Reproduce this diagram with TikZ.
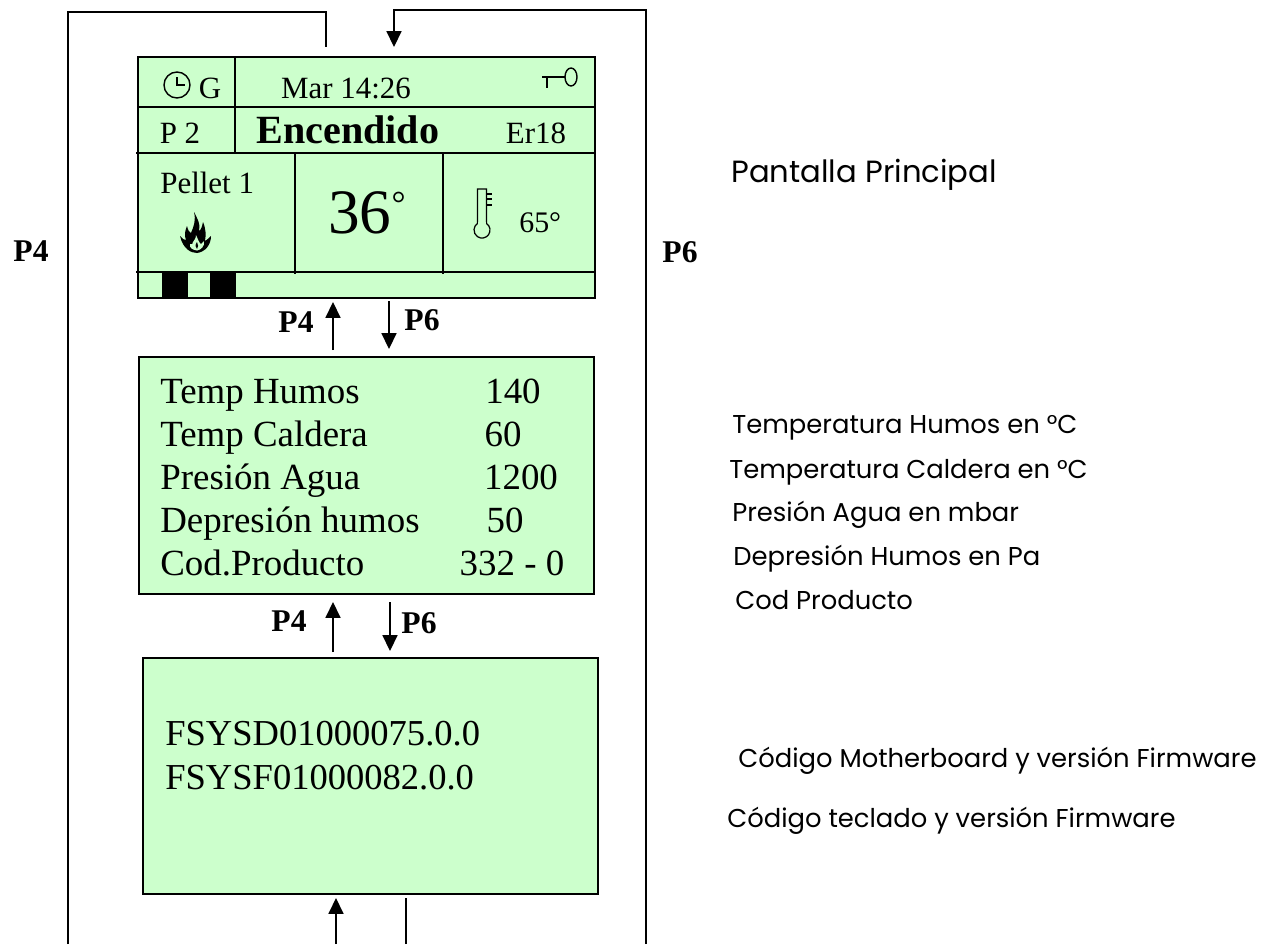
\documentclass[tikz,border=0pt]{standalone}
\usepackage{fontspec}
\setmainfont{Liberation Serif}
\newfontfamily\notefont{Poppins}
\usetikzlibrary{arrows.meta,positioning}

\begin{document}
\begin{tikzpicture}[x=0.02cm,y=-0.02cm]
    % Stili
    \tikzset{
        screen/.style={rectangle, draw, line width=1.1pt, fill=lcdgreen, inner sep=0pt},
        divider/.style={line width=0.9pt},
        link/.style={line width=0.9pt},
        arrow/.style={link, -{Triangle[width=8.5pt,length=9pt]}},
        keylabel/.style={font=\fontsize{18}{20}\selectfont\bfseries, inner sep=0pt, anchor=base},
        lcd/.style={font=\fontsize{17.6}{20}\selectfont, inner sep=0pt, anchor=base},
        row/.style={font=\fontsize{21}{22}\selectfont, inner sep=0pt, anchor=base},
        firm/.style={font=\fontsize{20.8}{22}\selectfont, inner sep=0pt, anchor=base west},
        note/.style={font=\notefont\fontsize{#1}{20}\selectfont, inner sep=0pt, anchor=base west}
    }
    \definecolor{lcdgreen}{HTML}{CCFFCC}
    \useasboundingbox (0,0) rectangle (1275,944);

    % Schermate
    \node[screen, minimum width=9.14cm, minimum height=4.82cm] (home) at (366.5,177.5) {};
    \node[screen, minimum width=9.1cm, minimum height=4.74cm] (data) at (366.5,475.5) {};
    \node[screen, minimum width=9.1cm, minimum height=4.72cm] (firmware) at (370.5,776) {};

    % Pantalla principal, righe
    \draw[divider] (138,107) -- (595,107);
    \draw[divider] (136,153) -- (595,153);
    \draw[divider] (136,272) -- (595,272);
    \draw[divider] (235,57) -- (235,153);
    \draw[divider] (295,153) -- (295,274);
    \draw[divider] (443,153) -- (443,274);
    \fill (162,272) rectangle (188,298);
    \fill (210,272) rectangle (236,298);

    % Orologio
    \draw[line width=0.8pt] (177,85) circle (13);
    \draw[line width=0.8pt] (177,77) -- (177,85) -- (185,85);

    % Chiave
    \draw[line width=0.8pt] (542,77) -- (565,77) (547,77) -- (547,88);
    \draw[line width=0.8pt] (571,77) ellipse (6 and 9);

    % Termometro
    \draw[line width=0.7pt] (477.4,223.5) -- (477.4,189) -- (486.6,189) -- (486.6,223.5)
        arc[start angle=-55, end angle=235, radius=8] -- cycle;
    \fill[lcdgreen] (478,222) rectangle (486,226);
    \draw[line width=0.7pt] (487,194) -- (492,194) (487,199) -- (492,199) (487,205) -- (492,205);

    % Fiamma
    \fill (197,253) .. controls (191,253) and (183,249) .. (180,236)
        .. controls (183,239) and (184,240) .. (186,240)
        .. controls (184,235) and (185,231) .. (187,226)
        .. controls (188,230) and (189,232) .. (191,233)
        .. controls (194,226) and (196,220) .. (194,212)
        .. controls (197,218) and (201,224) .. (199,231)
        .. controls (201,230) and (202,227) .. (203,222)
        .. controls (206,229) and (206,235) .. (205,241)
        .. controls (207,240) and (209,238) .. (211,236)
        .. controls (211,245) and (205,252) .. (197,253);
    \fill[lcdgreen] (197,250.5) .. controls (193,250) and (189,248) .. (190,244)
        .. controls (192,245) and (193,244) .. (193,242)
        .. controls (194,240) and (196,239) .. (196,235)
        .. controls (198,239) and (199,243) .. (201,244)
        .. controls (202,243) and (203,242) .. (204,241)
        .. controls (205,246) and (201,250) .. (197,250.5);
    \fill (197,249) .. controls (195,247) and (195,245) .. (197,242)
        .. controls (198,245) and (199,247) .. (197,249);

    % Testi pantalla principal
    \node[lcd] (mode) at (210,98) {G};
    \node[lcd] (clock) at (346,98) {Mar 14:26};
    \node[lcd] (power) at (180,143) {P 2};
    \node[font=\fontsize{22.8}{24}\selectfont\bfseries, inner sep=0pt, anchor=base] (state) at (348,143) {Encendido};
    \node[lcd] (alarm) at (536,143) {Er18};
    \node[lcd, anchor=base west] (fuel) at (160,193) {Pellet 1};
    \node[font=\fontsize{36}{38}\selectfont, inner sep=0pt, anchor=base west] (room) at (328,233) {36\raisebox{9.8pt}{\fontsize{20}{20}\selectfont °}};
    \node[font=\fontsize{17}{20}\selectfont, inner sep=0pt, anchor=base west] (boiler) at (519,232) {65°};

    % Testi seconda schermata
    \node[row, anchor=base west] (r1) at (160,403) {Temp Humos};
    \node[row, anchor=base west] (r2) at (160,446) {Temp Caldera};
    \node[row, anchor=base west] (r3) at (160,489) {Presión Agua};
    \node[row, anchor=base west] (r4) at (160,532) {Depresión humos};
    \node[row, anchor=base west] (r5) at (160,575) {Cod.Producto};
    \node[row] (v1) at (513,403) {140};
    \node[row] (v2) at (503,446) {60};
    \node[row] (v3) at (521,489) {1200};
    \node[row] (v4) at (505,532) {50};
    \node[row] (v5) at (512,575) {332 - 0};

    % Testi terza schermata
    \node[firm] (f1) at (165,745) {FSYSD01000075.0.0};
    \node[firm] (f2) at (165,789) {FSYSF01000082.0.0};

    % Note a destra
    \node[note=17.45] (n0) at (731,182) {Pantalla Principal};
    \node[note=14.7] (n1) at (732,433) {Temperatura Humos en °C};
    \node[note=14.7] (n2) at (729,478) {Temperatura Caldera en °C};
    \node[note=14.7] (n3) at (732,521) {Presión Agua en mbar};
    \node[note=14.7] (n4) at (733,565) {Depresión Humos en Pa};
    \node[note=14.7] (n5) at (735,609) {Cod Producto};
    \node[note=14.7] (n6) at (738,767) {Código Motherboard y versión Firmware};
    \node[note=14.7] (n7) at (727,827) {Código teclado y versión Firmware};

    % Etichette tasti
    \node[keylabel] (pl) at (31,261) {P4};
    \node[keylabel] (pr) at (680,262) {P6};
    \node[keylabel] (pa) at (296,332) {P4};
    \node[keylabel] (pb) at (422,330) {P6};
    \node[keylabel] (pc) at (289,631) {P4};
    \node[keylabel] (pd) at (419,633) {P6};

    % Estremi liberi
    \coordinate (outl) at (68,944);
    \coordinate (outr) at (646,944);
    \coordinate (topl) at (326,47);
    \coordinate (topr) at (394,47);
    \coordinate (upa) at (333,350);
    \coordinate (upb) at (333,302);
    \coordinate (dna) at (389,301);
    \coordinate (dnb) at (389,349);
    \coordinate (upc) at (333,652);
    \coordinate (upd) at (333,602);
    \coordinate (dnc) at (390,602);
    \coordinate (dnd) at (390,651);
    \coordinate (bota) at (336,944);
    \coordinate (botb) at (336,898);
    \coordinate (botc) at (406,944);
    \coordinate (botd) at (406,898);

    % Frecce
    \draw[link] (outl) |- (topl |- 0,12) -- (topl);
    \draw[arrow] (outr) |- (topr |- 0,10) -- (topr);
    \draw[arrow] (upa) -- (upb);
    \draw[arrow] (dna) -- (dnb);
    \draw[arrow] (upc) -- (upd);
    \draw[arrow] (dnc) -- (dnd);
    \draw[arrow] (bota) -- (botb);
    \draw[link] (botc) -- (botd);
\end{tikzpicture}
\end{document}
